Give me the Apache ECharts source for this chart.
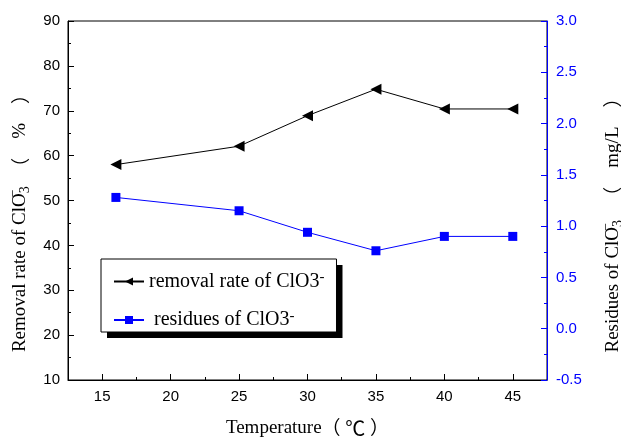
<!DOCTYPE html>
<html>
<head>
<meta charset="utf-8">
<script src="https://cdn.jsdelivr.net/npm/echarts@6/dist/echarts.min.js"></script>
<style>
  html, body { margin: 0; padding: 0; background: #fff; }
  #chart { width: 621px; height: 438px; }
</style>
</head>
<body>
<div id="chart"></div>
<script>
  // data
  var temperature = [16, 25, 30, 35, 40, 45]
  var removalRate = [58.0, 62.1, 68.9, 74.8, 70.4, 70.4]
  var residues = [1.28, 1.15, 0.94, 0.76, 0.90, 0.90]
  var xMajorTicks = [15, 20, 25, 30, 35, 40, 45]
  var xMinorTicks = [17.5, 22.5, 27.5, 32.5, 37.5, 42.5]

  var serif = '"Liberation Serif", "Times New Roman", serif'
  var sans = '"Liberation Sans", Arial, sans-serif'
  var cjk = '"Noto Sans CJK SC", sans-serif'
  var blue = '#0000ff'

  var richTitle = {
    n: { fontFamily: serif, fontSize: 19, color: '#000' },
    p: { fontFamily: cjk, fontSize: 19, color: '#000' },
    c: { fontFamily: cjk, fontSize: 20, color: '#000' },
    sub: { fontFamily: serif, fontSize: 14, color: '#000', padding: [10, 0, 0, 0] },
    sup: { fontFamily: serif, fontSize: 14, color: '#000', width: 0, padding: [0, 0, 14, 0] }
  }

  function legendText(name) {
    return name === 'removal' ? 'removal rate of ClO3{sup|-}' : ' residues of ClO3{sup|-}'
  }

  // two stacked legends: the lower one only throws the hard black shadow
  function makeLegend(withShadow) {
    var lg = {
      orient: 'vertical',
      left: 101,
      top: 259,
      padding: [11, 12, 2, 12],
      itemGap: 17,
      itemWidth: 30,
      itemHeight: 10,
      backgroundColor: '#fff',
      borderColor: '#000',
      borderWidth: withShadow ? 0 : 1,
      z: withShadow ? 3 : 4,
      formatter: legendText,
      textStyle: {
        fontFamily: serif,
        fontSize: 20,
        color: '#000',
        rich: {
          sup: { fontFamily: serif, fontSize: 15, color: '#000', padding: [0, 0, 8, 0] }
        }
      },
      data: ['removal', 'residues']
    }
    if (withShadow) {
      lg.shadowColor = '#000'
      lg.shadowBlur = 0
      lg.shadowOffsetX = 6
      lg.shadowOffsetY = 6
    }
    return lg
  }

  var myChart = echarts.init(document.getElementById('chart'))
  var option = {
    animation: false,
    grid: {
      left: 68,
      right: 74,
      top: 21,
      bottom: 58,
      outerBoundsMode: 'none',
      containLabel: false,
      show: true,
      borderColor: '#000',
      borderWidth: 1
    },
    legend: [makeLegend(true), makeLegend(false)],
    xAxis: [
      {
        type: 'value',
        min: 12.5,
        max: 47.5,
        interval: 2.5,
        name: '{n|Temperature}{p|（}{n| }{c|℃}{n| }{p|）}',
        nameLocation: 'middle',
        nameGap: 38,
        nameTextStyle: { rich: richTitle },
        axisLine: { onZero: false, lineStyle: { color: '#000', width: 1 } },
        axisTick: { inside: true, length: 6, customValues: xMajorTicks, lineStyle: { color: '#000' } },
        axisLabel: { customValues: xMajorTicks, margin: 9, fontFamily: sans, fontSize: 15, color: '#000' },
        splitLine: { show: false }
      },
      {
        type: 'value',
        min: 12.5,
        max: 47.5,
        interval: 2.5,
        position: 'bottom',
        axisLine: { show: false, onZero: false },
        axisTick: { inside: true, length: 3, customValues: xMinorTicks, lineStyle: { color: '#000' } },
        axisLabel: { show: false },
        splitLine: { show: false }
      }
    ],
    yAxis: [
      {
        type: 'value',
        min: 10,
        max: 90,
        interval: 10,
        name: '{n|Removal rate of ClO}{sup|−}{sub|3}{n|  }{p|（}{n|    %    }{p|）}',
        nameLocation: 'middle',
        nameRotate: 90,
        nameGap: 33,
        nameTextStyle: { rich: richTitle, padding: [0, 36, 0, 0] },
        axisLine: { show: true, onZero: false, lineStyle: { color: '#000', width: 1 } },
        axisTick: { inside: true, length: 6, lineStyle: { color: '#000' } },
        minorTick: { show: true, splitNumber: 2, length: 3, lineStyle: { color: '#000' } },
        axisLabel: { margin: 8, fontFamily: sans, fontSize: 15, color: '#000' },
        splitLine: { show: false }
      },
      {
        type: 'value',
        min: -0.5,
        max: 3,
        interval: 0.5,
        position: 'right',
        name: '{n|Residues of ClO}{sup|−}{sub|3}{n|   }{p|（}{n|    mg/L    }{p|）}',
        nameLocation: 'middle',
        nameRotate: 90,
        nameGap: 52,
        nameTextStyle: { rich: richTitle, padding: [0, 40, 0, 0] },
        axisLine: { show: true, onZero: false, lineStyle: { color: blue, width: 1 } },
        axisTick: { inside: true, length: 6, lineStyle: { color: blue } },
        minorTick: { show: true, splitNumber: 2, length: 3, lineStyle: { color: blue } },
        axisLabel: {
          margin: 9,
          fontFamily: sans,
          fontSize: 15,
          color: blue,
          formatter: function(v) { return v.toFixed(1) }
        },
        splitLine: { show: false }
      }
    ],
    series: [
      {
        name: 'removal',
        type: 'line',
        yAxisIndex: 0,
        data: temperature.map(function(t, i) { return [t, removalRate[i]] }),
        symbol: 'triangle',
        symbolRotate: 90,
        symbolSize: 11,
        lineStyle: { color: '#000', width: 1 },
        itemStyle: { color: '#000' }
      },
      {
        name: 'residues',
        type: 'line',
        yAxisIndex: 1,
        data: temperature.map(function(t, i) { return [t, residues[i]] }),
        symbol: 'rect',
        symbolSize: 9,
        lineStyle: { color: blue, width: 1 },
        itemStyle: { color: blue }
      }
    ]
  }
  option && myChart.setOption(option)
</script>
</body>
</html>
